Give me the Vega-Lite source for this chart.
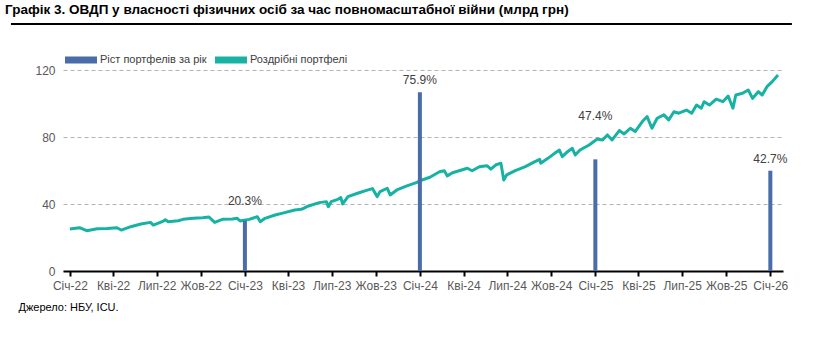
{
  "$schema": "https://vega.github.io/schema/vega-lite/v6.json",
  "width": 720,
  "height": 234,
  "autosize": {"type": "none"},
  "padding": {"left": 63, "top": 37, "right": 30, "bottom": 69},
  "background": "white",
  "title": {
    "text": "Графік 3. ОВДП у власності фізичних осіб за час повномасштабної війни (млрд грн)",
    "anchor": "start",
    "frame": "group",
    "dx": -58,
    "offset": 6,
    "font": "Liberation Sans",
    "fontSize": 13.5,
    "fontWeight": "bold",
    "color": "#000000"
  },
  "config": {
    "view": {"stroke": null},
    "font": "Liberation Sans",
    "legend": {
      "orient": "none",
      "legendX": 8,
      "legendY": 13,
      "direction": "horizontal",
      "title": null,
      "symbolType": "M-1.6,-0.35H1.6V0.35H-1.6Z",
      "symbolSize": 400,
      "symbolStrokeWidth": 0,
      "symbolOpacity": 1,
      "labelFontSize": 11,
      "labelFont": "Liberation Sans",
      "labelColor": "#404040",
      "labelOffset": 9,
      "columnPadding": 8
    }
  },
  "datasets": {
    "portfolio": [
      {"date": "2022-01-01", "value": 25.1, "series": "Роздрібні портфелі"},
      {"date": "2022-01-21", "value": 25.9, "series": "Роздрібні портфелі"},
      {"date": "2022-02-05", "value": 24.1, "series": "Роздрібні портфелі"},
      {"date": "2022-02-27", "value": 25.3, "series": "Роздрібні портфелі"},
      {"date": "2022-03-20", "value": 25.5, "series": "Роздрібні портфелі"},
      {"date": "2022-04-09", "value": 25.9, "series": "Роздрібні портфелі"},
      {"date": "2022-04-18", "value": 24.5, "series": "Роздрібні портфелі"},
      {"date": "2022-05-08", "value": 26.5, "series": "Роздрібні портфелі"},
      {"date": "2022-05-29", "value": 28.1, "series": "Роздрібні портфелі"},
      {"date": "2022-06-18", "value": 29.1, "series": "Роздрібні портфелі"},
      {"date": "2022-06-24", "value": 27.5, "series": "Роздрібні портфелі"},
      {"date": "2022-07-15", "value": 29.9, "series": "Роздрібні портфелі"},
      {"date": "2022-07-19", "value": 30.7, "series": "Роздрібні портфелі"},
      {"date": "2022-07-25", "value": 29.5, "series": "Роздрібні портфелі"},
      {"date": "2022-08-15", "value": 30.1, "series": "Роздрібні портфелі"},
      {"date": "2022-08-25", "value": 30.9, "series": "Роздрібні портфелі"},
      {"date": "2022-09-15", "value": 31.5, "series": "Роздрібні портфелі"},
      {"date": "2022-10-05", "value": 31.9, "series": "Роздрібні портфелі"},
      {"date": "2022-10-18", "value": 32.3, "series": "Роздрібні портфелі"},
      {"date": "2022-10-30", "value": 29.1, "series": "Роздрібні портфелі"},
      {"date": "2022-11-15", "value": 30.9, "series": "Роздрібні портфелі"},
      {"date": "2022-12-06", "value": 31.1, "series": "Роздрібні портфелі"},
      {"date": "2022-12-16", "value": 31.5, "series": "Роздрібні портфелі"},
      {"date": "2022-12-22", "value": 29.9, "series": "Роздрібні портфелі"},
      {"date": "2022-12-27", "value": 30.2, "series": "Роздрібні портфелі"},
      {"date": "2023-01-10", "value": 30.9, "series": "Роздрібні портфелі"},
      {"date": "2023-01-27", "value": 32.5, "series": "Роздрібні портфелі"},
      {"date": "2023-02-02", "value": 29.5, "series": "Роздрібні портфелі"},
      {"date": "2023-02-12", "value": 31.5, "series": "Роздрібні портфелі"},
      {"date": "2023-03-05", "value": 33.5, "series": "Роздрібні портфелі"},
      {"date": "2023-03-25", "value": 34.9, "series": "Роздрібні портфелі"},
      {"date": "2023-04-15", "value": 36.5, "series": "Роздрібні портфелі"},
      {"date": "2023-04-29", "value": 36.9, "series": "Роздрібні портфелі"},
      {"date": "2023-05-14", "value": 38.9, "series": "Роздрібні портфелі"},
      {"date": "2023-06-05", "value": 40.9, "series": "Роздрібні портфелі"},
      {"date": "2023-06-20", "value": 41.5, "series": "Роздрібні портфелі"},
      {"date": "2023-06-24", "value": 38.5, "series": "Роздрібні портфелі"},
      {"date": "2023-06-30", "value": 41.5, "series": "Роздрібні портфелі"},
      {"date": "2023-07-14", "value": 42.9, "series": "Роздрібні портфелі"},
      {"date": "2023-07-20", "value": 43.9, "series": "Роздрібні портфелі"},
      {"date": "2023-07-24", "value": 40.1, "series": "Роздрібні портфелі"},
      {"date": "2023-08-04", "value": 44.5, "series": "Роздрібні портфелі"},
      {"date": "2023-08-24", "value": 46.5, "series": "Роздрібні портфелі"},
      {"date": "2023-09-10", "value": 48.1, "series": "Роздрібні портфелі"},
      {"date": "2023-09-24", "value": 49.3, "series": "Роздрібні портфелі"},
      {"date": "2023-10-04", "value": 44.5, "series": "Роздрібні портфелі"},
      {"date": "2023-10-10", "value": 47.5, "series": "Роздрібні портфелі"},
      {"date": "2023-10-25", "value": 49.5, "series": "Роздрібні портфелі"},
      {"date": "2023-10-31", "value": 45.5, "series": "Роздрібні портфелі"},
      {"date": "2023-11-14", "value": 48.5, "series": "Роздрібні портфелі"},
      {"date": "2023-12-05", "value": 50.9, "series": "Роздрібні портфелі"},
      {"date": "2023-12-26", "value": 53.0, "series": "Роздрібні портфелі"},
      {"date": "2024-01-01", "value": 54.0, "series": "Роздрібні портфелі"},
      {"date": "2024-01-22", "value": 56.1, "series": "Роздрібні портфелі"},
      {"date": "2024-02-11", "value": 59.4, "series": "Роздрібні портфелі"},
      {"date": "2024-02-21", "value": 60.0, "series": "Роздрібні портфелі"},
      {"date": "2024-02-27", "value": 56.9, "series": "Роздрібні портфелі"},
      {"date": "2024-03-09", "value": 58.8, "series": "Роздрібні портфелі"},
      {"date": "2024-03-23", "value": 60.0, "series": "Роздрібні портфелі"},
      {"date": "2024-04-09", "value": 61.5, "series": "Роздрібні портфелі"},
      {"date": "2024-04-19", "value": 60.0, "series": "Роздрібні портфелі"},
      {"date": "2024-05-04", "value": 62.4, "series": "Роздрібні портфелі"},
      {"date": "2024-05-20", "value": 63.0, "series": "Роздрібні портфелі"},
      {"date": "2024-05-28", "value": 60.9, "series": "Роздрібні портфелі"},
      {"date": "2024-06-07", "value": 63.4, "series": "Роздрібні портфелі"},
      {"date": "2024-06-18", "value": 64.5, "series": "Роздрібні портфелі"},
      {"date": "2024-06-24", "value": 54.5, "series": "Роздрібні портфелі"},
      {"date": "2024-06-30", "value": 57.5, "series": "Роздрібні портфелі"},
      {"date": "2024-07-18", "value": 60.0, "series": "Роздрібні портфелі"},
      {"date": "2024-08-08", "value": 62.4, "series": "Роздрібні портфелі"},
      {"date": "2024-08-28", "value": 65.4, "series": "Роздрібні портфелі"},
      {"date": "2024-09-07", "value": 66.8, "series": "Роздрібні портфелі"},
      {"date": "2024-09-09", "value": 64.5, "series": "Роздрібні портфелі"},
      {"date": "2024-09-24", "value": 67.4, "series": "Роздрібні портфелі"},
      {"date": "2024-10-08", "value": 70.4, "series": "Роздрібні портфелі"},
      {"date": "2024-10-18", "value": 72.4, "series": "Роздрібні портфелі"},
      {"date": "2024-10-24", "value": 68.4, "series": "Роздрібні портфелі"},
      {"date": "2024-11-04", "value": 71.4, "series": "Роздрібні портфелі"},
      {"date": "2024-11-14", "value": 73.4, "series": "Роздрібні портфелі"},
      {"date": "2024-11-20", "value": 69.4, "series": "Роздрібні портфелі"},
      {"date": "2024-11-30", "value": 72.4, "series": "Роздрібні портфелі"},
      {"date": "2024-12-19", "value": 75.4, "series": "Роздрібні портфелі"},
      {"date": "2025-01-05", "value": 79.0, "series": "Роздрібні портфелі"},
      {"date": "2025-01-16", "value": 78.4, "series": "Роздрібні портфелі"},
      {"date": "2025-01-26", "value": 81.4, "series": "Роздрібні портфелі"},
      {"date": "2025-02-05", "value": 78.4, "series": "Роздрібні портфелі"},
      {"date": "2025-02-20", "value": 84.0, "series": "Роздрібні портфелі"},
      {"date": "2025-03-02", "value": 82.0, "series": "Роздрібні портфелі"},
      {"date": "2025-03-15", "value": 85.4, "series": "Роздрібні портфелі"},
      {"date": "2025-03-25", "value": 83.4, "series": "Роздрібні портфелі"},
      {"date": "2025-04-09", "value": 89.4, "series": "Роздрібні портфелі"},
      {"date": "2025-04-19", "value": 92.4, "series": "Роздрібні портфелі"},
      {"date": "2025-04-29", "value": 85.4, "series": "Роздрібні портфелі"},
      {"date": "2025-05-10", "value": 91.4, "series": "Роздрібні портфелі"},
      {"date": "2025-05-24", "value": 93.4, "series": "Роздрібні портфелі"},
      {"date": "2025-06-03", "value": 90.4, "series": "Роздрібні портфелі"},
      {"date": "2025-06-14", "value": 95.3, "series": "Роздрібні портфелі"},
      {"date": "2025-06-24", "value": 94.4, "series": "Роздрібні портфелі"},
      {"date": "2025-07-10", "value": 96.3, "series": "Роздрібні портфелі"},
      {"date": "2025-07-21", "value": 94.4, "series": "Роздрібні портфелі"},
      {"date": "2025-07-31", "value": 99.3, "series": "Роздрібні портфелі"},
      {"date": "2025-08-10", "value": 97.4, "series": "Роздрібні портфелі"},
      {"date": "2025-08-16", "value": 101.3, "series": "Роздрібні портфелі"},
      {"date": "2025-08-27", "value": 99.3, "series": "Роздрібні портфелі"},
      {"date": "2025-09-10", "value": 102.8, "series": "Роздрібні портфелі"},
      {"date": "2025-09-24", "value": 101.3, "series": "Роздрібні портфелі"},
      {"date": "2025-10-05", "value": 104.7, "series": "Роздрібні портфелі"},
      {"date": "2025-10-15", "value": 97.4, "series": "Роздрібні портфелі"},
      {"date": "2025-10-21", "value": 105.3, "series": "Роздрібні портфелі"},
      {"date": "2025-11-04", "value": 106.3, "series": "Роздрібні портфелі"},
      {"date": "2025-11-16", "value": 108.3, "series": "Роздрібні портфелі"},
      {"date": "2025-11-25", "value": 103.3, "series": "Роздрібні портфелі"},
      {"date": "2025-12-07", "value": 107.3, "series": "Роздрібні портфелі"},
      {"date": "2025-12-15", "value": 105.3, "series": "Роздрібні портфелі"},
      {"date": "2025-12-25", "value": 110.3, "series": "Роздрібні портфелі"},
      {"date": "2026-01-05", "value": 113.3, "series": "Роздрібні портфелі"},
      {"date": "2026-01-17", "value": 117.3, "series": "Роздрібні портфелі"}
    ],
    "growth": [
      {"date": "2023-01-01", "value": 30.0, "label": "20.3%", "series": "Ріст портфелів за рік"},
      {"date": "2024-01-01", "value": 107.0, "label": "75.9%", "series": "Ріст портфелів за рік"},
      {"date": "2025-01-01", "value": 66.8, "label": "47.4%", "series": "Ріст портфелів за рік"},
      {"date": "2026-01-01", "value": 60.0, "label": "42.7%", "series": "Ріст портфелів за рік"}
    ]
  },
  "layer": [
    {
      "data": {"name": "portfolio"},
      "mark": {"type": "line", "strokeWidth": 3, "strokeJoin": "round"},
      "encoding": {
        "x": {
          "field": "date",
          "type": "temporal",
          "scale": {"type": "utc", "domain": [1640649600000, 1768608000000]},
          "axis": {
            "values": [1640995200000, 1648771200000, 1656633600000, 1664582400000,
                       1672531200000, 1680307200000, 1688169600000, 1696118400000,
                       1704067200000, 1711929600000, 1719792000000, 1727740800000,
                       1735689600000, 1743465600000, 1751328000000, 1759276800000,
                       1767225600000],
            "labelExpr": "(utcFormat(datum.value, '%m') == '01' ? 'Січ' : utcFormat(datum.value, '%m') == '04' ? 'Кві' : utcFormat(datum.value, '%m') == '07' ? 'Лип' : 'Жов') + '-' + utcFormat(datum.value, '%y')",
            "grid": false,
            "domainColor": "#000000",
            "domainWidth": 2,
            "tickColor": "#000000",
            "tickWidth": 2,
            "tickSize": 5,
            "labelColor": "#595959",
            "labelFontSize": 12,
            "labelPadding": 4,
            "labelFlush": false,
            "labelOverlap": false,
            "title": "Джерело: НБУ, ICU.",
            "titleAnchor": null,
            "titleAlign": "left",
            "titleX": -45,
            "titleY": 36,
            "titleBaseline": "middle",
            "titleFontSize": 11,
            "titleFontWeight": "normal",
            "titleColor": "#000000"
          }
        },
        "y": {
          "field": "value",
          "type": "quantitative",
          "scale": {"domain": [0, 140], "nice": false},
          "axis": {
            "values": [0, 20, 40, 60, 80, 100, 120, 140],
            "labelOverlap": false,
            "domain": false,
            "ticks": false,
            "grid": true,
            "gridDash": [4, 3],
            "gridColor": "#b3b3b3",
            "gridWidth": 1,
            "labelColor": "#595959",
            "labelFontSize": 12,
            "labelPadding": 8,
            "title": null
          }
        },
        "color": {
          "field": "series",
          "type": "nominal",
          "scale": {
            "domain": ["Ріст портфелів за рік", "Роздрібні портфелі"],
            "range": ["#4a6ca8", "#17b2a4"]
          }
        }
      }
    },
    {
      "data": {"name": "growth"},
      "mark": {"type": "bar", "width": 4},
      "encoding": {
        "x": {"field": "date", "type": "temporal"},
        "y": {"field": "value", "type": "quantitative"},
        "color": {"field": "series", "type": "nominal"}
      }
    },
    {
      "data": {"name": "growth"},
      "transform": [{"filter": "datum.label == '75.9%' || datum.label == '42.7%'"}],
      "mark": {"type": "text", "dy": -12, "baseline": "middle", "fontSize": 12, "color": "#404040"},
      "encoding": {
        "x": {"field": "date", "type": "temporal"},
        "y": {"field": "value", "type": "quantitative"},
        "text": {"field": "label"}
      }
    },
    {
      "data": {"name": "growth"},
      "transform": [{"filter": "datum.label == '20.3%'"}],
      "mark": {"type": "text", "dy": -20, "baseline": "middle", "fontSize": 12, "color": "#404040"},
      "encoding": {
        "x": {"field": "date", "type": "temporal"},
        "y": {"field": "value", "type": "quantitative"},
        "text": {"field": "label"}
      }
    },
    {
      "data": {"name": "growth"},
      "transform": [{"filter": "datum.label == '47.4%'"}],
      "mark": {"type": "text", "dy": -43, "baseline": "middle", "fontSize": 12, "color": "#404040"},
      "encoding": {
        "x": {"field": "date", "type": "temporal"},
        "y": {"field": "value", "type": "quantitative"},
        "text": {"field": "label"}
      }
    },
    {
      "data": {"values": [{"k": 1}]},
      "mark": {"type": "rule", "clip": false, "strokeWidth": 2, "color": "black"},
      "encoding": {
        "x": {"datum": 1630368000000, "type": "temporal"},
        "x2": {"datum": 1771113600000},
        "y": {"datum": 147.8, "type": "quantitative"}
      }
    }
  ]
}
